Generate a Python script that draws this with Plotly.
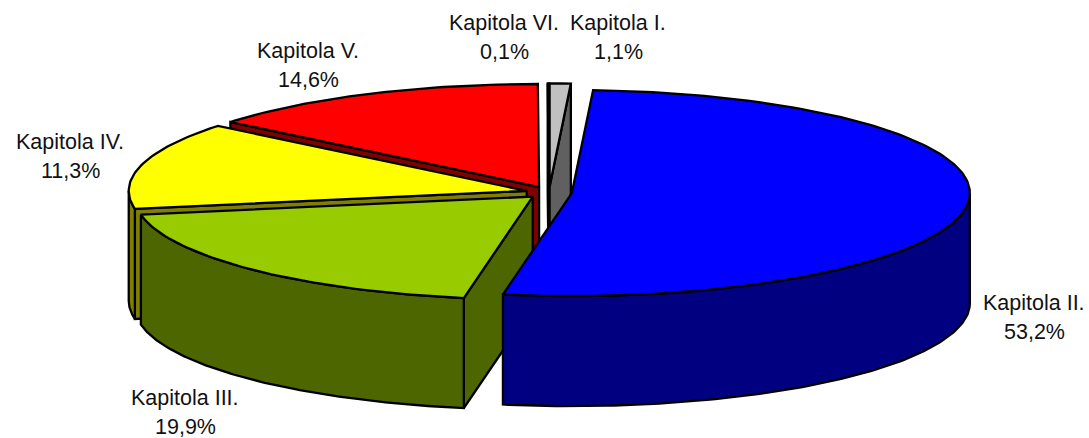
import numpy as np
import plotly.graph_objects as go

# Data
chapters = ["Kapitola I.", "Kapitola II.", "Kapitola III.", "Kapitola IV.", "Kapitola V.", "Kapitola VI."]
percent_labels = ["1,1%", "53,2%", "19,9%", "11,3%", "14,6%", "0,1%"]
# Slice shares as drawn in the picture (the 3D projection shifts them a little from the labels)
drawn_share = [0.85, 51.92, 19.43, 13.67, 14.08, 0.05]
top_colors = ["#C0C0C0", "#0000FF", "#99CC00", "#FFFF00", "#FF0000", "#9999FF"]
side_colors = ["#606060", "#000080", "#4D6600", "#808000", "#800000", "#4D4D80"]
label_x = [618, 1034, 185, 70, 308, 504]
label_y = [23, 303, 398, 142, 51, 23]
draw_order = [5, 0, 4, 3, 2, 1]

# Pie geometry in pixels
CX, CY, RX, RY, DEPTH, EXPLODE = 549, 192.4, 398, 103, 110, 23
LINE_GAP = 29

edges = np.concatenate([[0], np.cumsum(drawn_share)]) / sum(drawn_share) * 2 * np.pi


def rim(center, angles):
    return center[0] + RX * np.sin(angles), center[1] - RY * np.cos(angles)


def add_poly(fig, x, y, color):
    fig.add_trace(go.Scatter(x=list(x) + [x[0]], y=list(y) + [y[0]], mode="lines", fill="toself",
                             fillcolor=color, line=dict(color="black", width=2.3),
                             hoverinfo="skip", showlegend=False))


fig = go.Figure()
for i in draw_order:
    a, b = edges[i], edges[i + 1]
    mid = (a + b) / 2
    c = (CX + EXPLODE * np.sin(mid), CY - EXPLODE * RY / RX * np.cos(mid))
    # Visible cut faces
    for ang, visible in ((a, np.sin(a) < 0), (b, np.sin(b) > 0)):
        if visible:
            px, py = rim(c, np.array([ang]))
            add_poly(fig, [c[0], px[0], px[0], c[0]], [c[1], py[0], py[0] + DEPTH, c[1] + DEPTH], side_colors[i])
    # Outer wall (front half of the ellipse only)
    lo, hi = max(a, np.pi / 2), min(b, 3 * np.pi / 2)
    if hi > lo:
        t = np.linspace(lo, hi, 120)
        px, py = rim(c, t)
        add_poly(fig, np.r_[px, px[::-1]], np.r_[py, py[::-1] + DEPTH], side_colors[i])
    # Top surface
    t = np.linspace(a, b, max(int((b - a) * 60), 3))
    px, py = rim(c, t)
    add_poly(fig, np.r_[c[0], px], np.r_[c[1], py], top_colors[i])

annotations = []
for name, pct, x, y in zip(chapters, percent_labels, label_x, label_y):
    for text, yy in ((name, y), (pct, y + LINE_GAP)):
        annotations.append(dict(x=x, y=yy, text=text, showarrow=False, xanchor="center", yanchor="middle",
                                font=dict(family="Liberation Sans", size=21.5, color="#111111")))

fig.update_layout(
    width=1089, height=438, margin=dict(l=0, r=0, t=0, b=0),
    paper_bgcolor="white", plot_bgcolor="white", annotations=annotations,
    xaxis=dict(range=[0, 1089], visible=False, fixedrange=True),
    yaxis=dict(range=[438, 0], visible=False, fixedrange=True),
)
fig.write_html("out.html", config={"displayModeBar": False},
               default_width="1089px", default_height="438px",
               post_script="document.body.style.margin='0';document.documentElement.style.overflow='hidden';")
